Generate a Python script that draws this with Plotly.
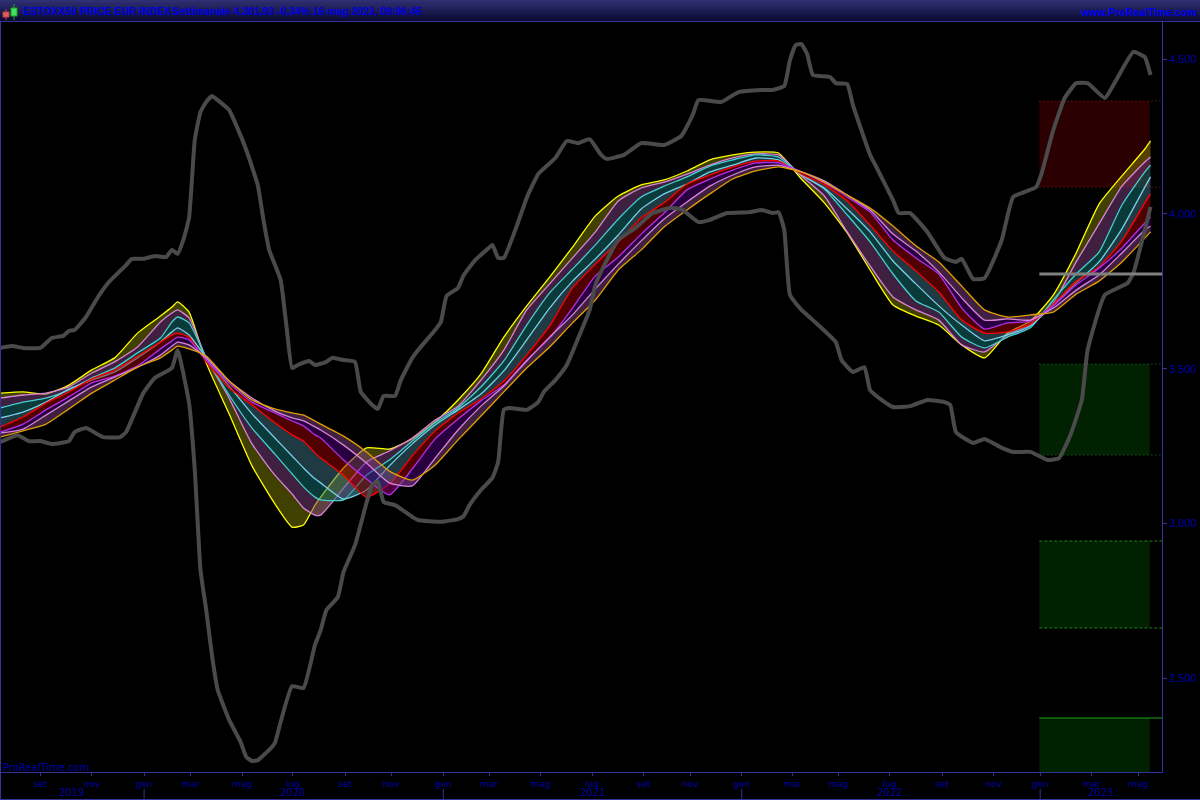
import pandas as pd
import plotly.graph_objects as go

START = pd.Timestamp("2019-07-09")
AXIS_START = "2019-07-10"

def week_dates(weeks):
    return [START + pd.Timedelta(days=7 * w) for w in weeks]

band_weeks = [0,4,8,12,16,20,24,28,30,31,33,36,40,44,48,51,53,55,56,60,64,68,72,76,80,84,88,92,96,100,104,108,112,116,120,124,128,132,136,140,144,148,152,156,160,164,168,172,176,180,184,188,192,196,200,201]

yellow_a = [3421,3425,3418,3447,3496,3535,3615,3670,3699,3716,3683,3518,3354,3186,3063,2988,2995,3059,3085,3179,3244,3240,3273,3328,3399,3483,3602,3703,3796,3893,3994,4058,4094,4110,4139,4175,4191,4200,4197,4113,4036,3939,3819,3706,3670,3641,3577,3535,3615,3654,3738,3874,4032,4123,4210,4236]
pink_a = [3405,3415,3421,3441,3486,3522,3570,3651,3680,3690,3664,3535,3405,3257,3156,3095,3050,3027,3027,3114,3198,3234,3276,3334,3379,3463,3560,3690,3774,3858,3942,4042,4084,4103,4129,4158,4181,4194,4191,4123,4058,3942,3832,3732,3690,3657,3577,3554,3609,3644,3712,3845,3968,4090,4168,4184]
turquoise = [3373,3392,3405,3431,3470,3502,3551,3599,3651,3667,3648,3535,3415,3308,3224,3160,3118,3085,3076,3076,3156,3205,3266,3325,3373,3441,3525,3641,3745,3822,3900,3984,4055,4090,4120,4155,4175,4191,4184,4126,4081,3997,3910,3806,3719,3683,3602,3567,3602,3632,3722,3806,3877,4029,4136,4158]
light_cyan = [3341,3360,3392,3434,3463,3489,3535,3586,3619,3632,3609,3535,3444,3354,3276,3218,3179,3144,3131,3079,3108,3186,3257,3318,3367,3418,3493,3593,3696,3783,3855,3932,4016,4065,4097,4136,4158,4181,4175,4126,4084,4016,3942,3848,3774,3703,3641,3590,3609,3638,3706,3777,3845,3952,4087,4120]
red_mid = [3312,3344,3389,3425,3467,3496,3541,3586,3609,3615,3602,3522,3438,3383,3325,3286,3266,3228,3211,3156,3085,3127,3218,3299,3357,3402,3460,3544,3638,3761,3838,3910,3987,4036,4097,4126,4152,4171,4171,4129,4094,4042,3964,3880,3816,3748,3657,3615,3619,3644,3709,3783,3829,3913,4036,4065]
purple = [3295,3321,3367,3409,3454,3476,3509,3564,3590,3602,3593,3528,3454,3392,3357,3331,3315,3286,3276,3205,3144,3092,3176,3273,3337,3396,3447,3528,3599,3696,3800,3861,3935,4003,4078,4113,4142,4165,4165,4136,4100,4055,4006,3916,3858,3806,3696,3628,3648,3654,3703,3771,3825,3890,3971,3990]
pink_b = [3292,3305,3350,3396,3441,3473,3505,3544,3573,3586,3577,3535,3460,3405,3363,3341,3331,3312,3302,3253,3195,3131,3121,3211,3302,3379,3444,3525,3602,3674,3758,3838,3913,3984,4039,4090,4126,4152,4158,4136,4107,4061,4013,3935,3880,3813,3729,3657,3661,3657,3696,3754,3803,3874,3948,3961]
orange_b = [3279,3299,3321,3370,3421,3463,3505,3535,3560,3573,3564,3541,3460,3399,3370,3357,3350,3331,3321,3282,3231,3169,3140,3189,3270,3347,3425,3502,3570,3648,3722,3819,3884,3958,4013,4065,4113,4139,4152,4136,4103,4061,4019,3961,3897,3845,3767,3690,3667,3674,3683,3741,3783,3845,3922,3942]

upper_weeks = [0,2,4,7,9,11,12,13,15,17,19,22,23,25,27,29,30,31,32,33,34,35,36,37,38,40,41,43,45,46,47,49,50,51,52,54,55,57,58,60,62,63,65,66,67,69,70,72,73,76,77,78,80,81,83,85,86,87,88,90,92,94,97,99,101,103,105,106,109,112,116,119,121,122,126,129,133,135,137,138,139,140,141,142,145,146,148,149,152,153,156,157,159,162,165,167,168,170,172,175,177,181,182,184,186,188,190,193,195,198,200,201]
upper_values = [3567,3573,3567,3567,3599,3606,3622,3625,3667,3729,3780,3835,3855,3855,3864,3861,3884,3871,3916,3987,4239,4330,4362,4381,4368,4336,4297,4207,4094,3981,3884,3787,3641,3502,3512,3525,3512,3522,3535,3528,3522,3425,3383,3370,3412,3412,3463,3535,3560,3625,3651,3735,3761,3803,3851,3884,3900,3858,3858,3948,4052,4129,4181,4236,4229,4242,4191,4178,4191,4229,4223,4252,4320,4368,4362,4394,4401,4401,4414,4498,4546,4549,4517,4449,4443,4423,4420,4352,4191,4155,4045,4003,4003,3942,3858,3845,3855,3790,3793,3916,4055,4087,4133,4271,4375,4423,4423,4375,4433,4524,4507,4449]

lower_weeks = [0,2,3,5,7,9,12,13,15,18,21,22,25,27,30,31,33,34,35,36,37,38,40,42,43,44,45,47,48,49,51,53,55,56,57,59,60,62,64,65,66,67,69,72,73,77,80,81,82,84,86,87,88,89,92,94,95,97,99,101,103,104,106,108,111,114,117,119,122,124,127,131,133,135,136,137,138,140,142,146,147,149,151,152,154,156,159,162,165,166,167,170,172,175,177,180,183,185,187,189,190,193,197,198,200,201]
lower_values = [3263,3279,3286,3266,3266,3257,3266,3295,3308,3279,3279,3295,3421,3470,3502,3560,3389,3173,2849,2720,2575,2462,2365,2294,2245,2232,2235,2268,2290,2358,2474,2468,2607,2655,2720,2762,2843,2930,3066,3124,3134,3069,3059,3021,3011,3005,3014,3024,3059,3108,3147,3198,3367,3373,3367,3392,3425,3463,3512,3599,3690,3771,3851,3916,3955,4003,4019,4016,3974,3981,4003,4006,4013,4003,4006,3948,3738,3690,3657,3586,3528,3489,3505,3431,3399,3376,3379,3399,3392,3383,3295,3260,3273,3244,3231,3231,3205,3211,3286,3399,3560,3738,3777,3809,3948,4023]

y_ticks = [4500, 4000, 3500, 3000, 2500]
y_labels = ["4.500", "4.000", "3.500", "3.000", "2.500"]
x_tick_dates = ["2019-08-27","2019-10-29","2020-01-01","2020-02-27","2020-04-30","2020-07-01","2020-09-03","2020-10-29","2021-01-01","2021-02-26","2021-04-30","2021-07-02","2021-09-03","2021-10-30","2022-01-01","2022-03-04","2022-04-29","2022-07-01","2022-09-03","2022-11-05","2023-01-01","2023-03-05","2023-05-01"]
x_tick_labels = ["set","nov","gen","mar","mag","lug","set","nov","gen","mar","mag","lug","set","nov","gen","mar","mag","lug","set","nov","gen","mar","mag"]
year_labels = ["2019","2020","2021","2022","2023"]
year_label_dates = ["2019-10-04","2020-07-01","2021-07-02","2022-07-01","2023-03-16"]
year_break_dates = ["2020-01-01","2021-01-01","2022-01-01","2023-01-01"]

zone_start, zone_end, axis_end = "2022-12-31", "2023-05-15", "2023-05-30"
red_zone = [4087, 4365]
green_zone_1 = [3221, 3515]
green_zone_2 = [2662, 2943]
green_zone_3 = [2190, 2371]
pivot_level = 3806

BLUE = "#0000a8"
LINE = "#333399"
W, H, L, T, R, B = 1200, 800, 1, 22, 38, 28
PW, PH = W - L - R, H - T - B

def px(x):
    return (x - L) / PW

def py(y):
    return 1 - (y - T) / PH

fig = go.Figure()
series = [
    (yellow_a, "#ffff00", None),
    (pink_a, "#d884d8", "rgba(128,128,0,0.5)"),
    (turquoise, "#45d0d0", "rgba(128,64,128,0.5)"),
    (light_cyan, "#78d0e8", "rgba(20,116,116,0.5)"),
    (red_mid, "#ff0000", "rgba(64,116,136,0.5)"),
    (purple, "#b030e8", "rgba(160,0,0,0.5)"),
    (pink_b, "#d884d8", "rgba(80,0,128,0.5)"),
    (orange_b, "#e0a000", "rgba(128,64,128,0.5)"),
]
band_x = week_dates(band_weeks)
for values, color, fill in series:
    fig.add_trace(go.Scatter(
        x=band_x, y=values, mode="lines",
        line=dict(color=color, width=1.3, shape="spline", smoothing=0.5),
        fill="tonexty" if fill else None,
        fillcolor=fill, hoverinfo="skip", showlegend=False,
    ))
for wk, vals in ((upper_weeks, upper_values), (lower_weeks, lower_values)):
    fig.add_trace(go.Scatter(
        x=week_dates(wk), y=vals, mode="lines",
        line=dict(color="#4a4a4a", width=4, shape="spline", smoothing=0.4),
        hoverinfo="skip", showlegend=False,
    ))

shapes = []
def zone(vals, fillc, linec, dash):
    shapes.append(dict(type="rect", xref="x", yref="y", x0=zone_start, x1=zone_end, y0=vals[0], y1=vals[1],
                       fillcolor=fillc, line_width=0, layer="below"))
    for v in vals:
        if v > 2200:
            shapes.append(dict(type="line", xref="x", yref="y", x0=zone_start, x1=axis_end, y0=v, y1=v,
                               line=dict(color=linec, width=1, dash=dash), layer="below"))

zone(red_zone, "#2a0000", "#a02020", "1px,3px")
zone(green_zone_1, "#002200", "#208020", "1px,3px")
zone(green_zone_2, "#002200", "#208020", "3px,2px")
zone(green_zone_3, "#002200", "#20a020", "solid")
shapes.append(dict(type="line", xref="x", yref="y", x0=zone_start, x1=axis_end, y0=pivot_level, y1=pivot_level,
                   line=dict(color="#808080", width=3), layer="above"))

# header gradient
top = (47, 47, 115)
bot = (10, 10, 50)
n = 21
for i in range(n):
    t = i / (n - 1)
    c = tuple(round(top[k] + (bot[k] - top[k]) * t) for k in range(3))
    shapes.append(dict(type="rect", xref="paper", yref="paper", x0=px(0), x1=px(W), y0=py(i + 1), y1=py(i),
                       fillcolor=f"rgb{c}", line_width=0, layer="above"))

def pline(x0, y0, x1, y1, color=LINE, width=1):
    shapes.append(dict(type="line", xref="paper", yref="paper", x0=px(x0), x1=px(x1), y0=py(y0), y1=py(y1),
                       line=dict(color=color, width=width), layer="above"))

pline(0, 21.5, W, 21.5)
pline(0.5, 21, 0.5, H)
pline(0, 799.5, W, 799.5)
for d in year_break_dates:
    shapes.append(dict(type="line", xref="x", yref="paper", x0=d, x1=d, y0=py(789), y1=py(799),
                       line=dict(color=LINE, width=1), layer="above"))
# candle icon
pline(6, 9, 6, 20, "#c04040")
shapes.append(dict(type="rect", xref="paper", yref="paper", x0=px(3), x1=px(9), y0=py(17), y1=py(12),
                   fillcolor="#e06060", line=dict(color="#c04040", width=1), layer="above"))
pline(14, 4, 14, 20, "#20a020")
shapes.append(dict(type="rect", xref="paper", yref="paper", x0=px(11), x1=px(17), y0=py(16), y1=py(8),
                   fillcolor="#40e060", line=dict(color="#20a020", width=1), layer="above"))

annotations = [
    dict(text="<b>ESTOXX50 PRICE EUR INDEX</b>", x=px(23), y=py(12), xanchor="left",
         font=dict(family="Liberation Sans", size=10.4, color="#0000e0")),
    dict(text="<b>Settimanale 4.301,93 -0,34% 16 mag 2023, 09:06:45</b>", x=px(172), y=py(12), xanchor="left",
         font=dict(family="Liberation Sans", size=10.4, color="#0000e0")),
    dict(text="<b>www.ProRealTime.com</b>", x=px(1197), y=py(12), xanchor="right",
         font=dict(family="Liberation Sans", size=10.5, color="#0000f0")),
    dict(text="ProRealTime.com", x=px(3), y=py(767), xanchor="left",
         font=dict(family="DejaVu Sans", size=10, color=BLUE)),
]
for a in annotations:
    a.update(xref="paper", yref="paper", showarrow=False, yanchor="middle", xshift=0, yshift=0,
             borderpad=0, borderwidth=0)
for lab, d in zip(year_labels, year_label_dates):
    annotations.append(dict(text=lab, x=d, y=py(792.5), xref="x", yref="paper", showarrow=False,
                            xanchor="center", yanchor="middle", borderpad=0,
                            font=dict(family="DejaVu Sans", size=10, color=BLUE)))

fig.update_layout(
    width=W, height=H,
    margin=dict(l=L, r=R, t=T, b=B, pad=0),
    paper_bgcolor="#000000", plot_bgcolor="#000000",
    showlegend=False,
    shapes=shapes, annotations=annotations,
    xaxis=dict(type="date", range=[AXIS_START, axis_end], showgrid=False, zeroline=False,
               showline=True, linecolor=LINE, linewidth=1,
               tickmode="array", tickvals=x_tick_dates, ticktext=x_tick_labels,
               ticks="outside", ticklen=3, tickcolor=LINE, tickwidth=1,
               tickangle=0, automargin=False,
               tickfont=dict(family="DejaVu Sans", size=9, color=BLUE)),
    yaxis=dict(range=[2196.5, 4620.5], side="right", showgrid=False, zeroline=False,
               showline=True, linecolor=LINE, linewidth=1,
               tickmode="array", tickvals=y_ticks, ticktext=y_labels,
               ticks="outside", ticklen=4, tickcolor=LINE, tickwidth=1, automargin=False,
               tickfont=dict(family="Liberation Sans", size=11, color=BLUE)),
)
fig.write_html("out.html", post_script="document.body.style.margin='0';document.body.style.background='#000';",
               config={"displayModeBar": False})
